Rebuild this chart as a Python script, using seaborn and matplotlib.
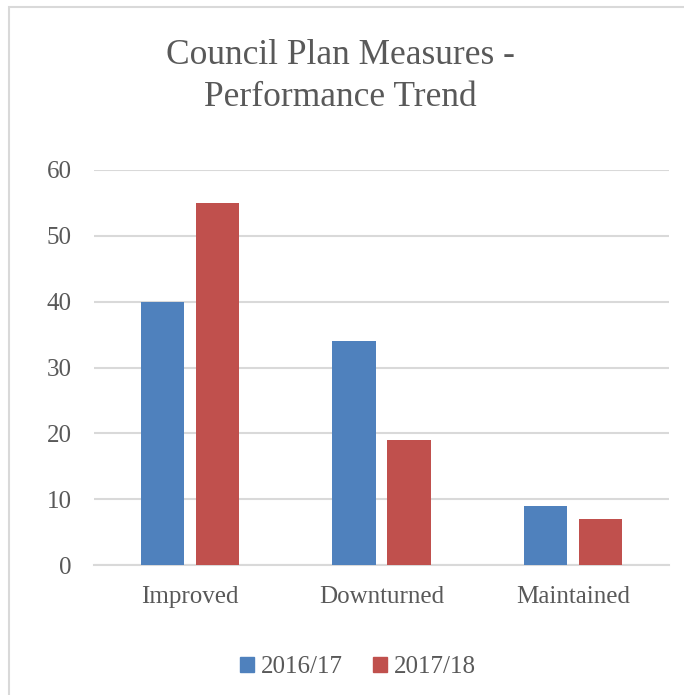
import pandas as pd
import seaborn as sns
import matplotlib.pyplot as plt
from matplotlib.patches import Rectangle

categories = ["Improved", "Downturned", "Maintained"]
years = ["2016/17", "2017/18"]
values_2016 = [40, 34, 9]
values_2017 = [55, 19, 7]

df = pd.DataFrame({
    "category": categories * 2,
    "year": [years[0]] * 3 + [years[1]] * 3,
    "count": values_2016 + values_2017,
})

sns.set_style("white")
plt.rcParams["font.family"] = ["Liberation Serif", "DejaVu Serif"]
text_col = "#595959"
grid_col = "#D9D9D9"
colors = ["#4F81BD", "#C0504D"]

fig = plt.figure(figsize=(6.84, 6.95), dpi=100)
# outer chart border (only top and left visible in the picture)
fig.patches.append(Rectangle((9 / 684, -0.1), 1.0, (695 - 7) / 695 + 0.1,
                             transform=fig.transFigure, fill=False,
                             edgecolor=grid_col, linewidth=1.5))

ax = fig.add_axes([94 / 684, (695 - 565) / 695, 575 / 684, 395 / 695])
sns.barplot(data=df, x="category", y="count", hue="year", order=categories,
            hue_order=years, palette=colors, saturation=1,
            width=0.574, gap=0.216, ax=ax, legend=False, linewidth=0,
            edgecolor="none", zorder=3)

ax.set_ylim(0, 60)
ax.set_xlim(-0.5, 2.5)
ax.set_yticks(range(0, 61, 10))
ax.yaxis.grid(True, color=grid_col, linewidth=1.5, zorder=0)
ax.set_axisbelow(True)
for s in ["top", "right", "left"]:
    ax.spines[s].set_visible(False)
ax.spines["bottom"].set_color(grid_col)
ax.spines["bottom"].set_linewidth(1.5)
ax.tick_params(axis="y", length=0, pad=16, labelsize=18, labelcolor=text_col)
ax.tick_params(axis="x", length=0, pad=15, labelsize=18, labelcolor=text_col)
ax.set_xlabel("")
ax.set_ylabel("")

fig.text(340 / 684, 1 - 76 / 695, "Council Plan Measures -\nPerformance Trend",
         ha="center", va="center", fontsize=25.5, color=text_col, linespacing=1.36)

handles = [Rectangle((0, 0), 1, 1, color=c) for c in colors]
fig.legend(handles, years, loc="center", bbox_to_anchor=(358 / 684, 1 - 667 / 695),
           ncol=2, frameon=False, fontsize=18, labelcolor=text_col,
           handlelength=0.55, handleheight=0.55, handletextpad=0.3, columnspacing=1.2)

fig.savefig("out.png", dpi=100)
